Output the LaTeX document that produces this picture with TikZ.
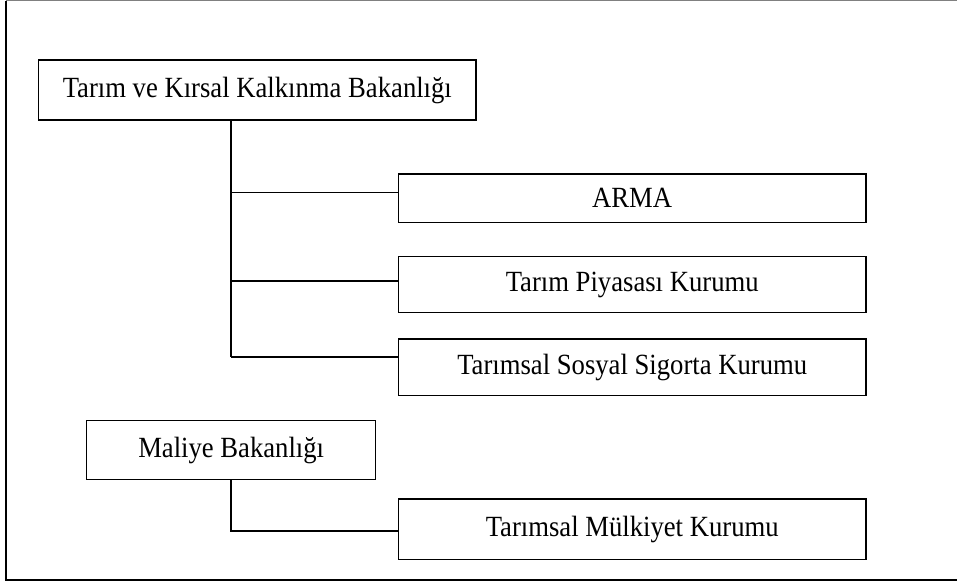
\documentclass[tikz,border=0pt]{standalone}
\usepackage{fontspec}
\setmainfont[FakeStretch=0.91]{Liberation Serif}
\begin{document}
\begin{tikzpicture}[x=1pt,y=-1pt,
  box/.style={draw=black,line width=1.4pt,fill=white,inner sep=0pt,align=center,font=\fontsize{29.3}{34}\selectfont},
  conn/.style={draw=black,line width=1.4pt}]
\useasboundingbox (0,0) rectangle (957,582);
% outer frame
\draw[gray,line width=1pt] (6,0.7) -- (957,0.7);
\draw[black,line width=1.5pt] (6,0.7) -- (6,580) -- (957,580);
% nodes
\node[box,minimum width=437.3pt,minimum height=60pt] (main) at (257.3,90) {Tarım ve Kırsal Kalkınma Bakanlığı};
\node[box,minimum width=467.6pt,minimum height=48.3pt] (arma) at (632.2,198.2) {ARMA};
\node[box,minimum width=467.6pt,minimum height=56pt] (tpk) at (632.2,284.7) {Tarım Piyasası Kurumu};
\node[box,minimum width=467.6pt,minimum height=56.7pt] (tssk) at (632.2,367.4) {Tarımsal Sosyal Sigorta Kurumu};
\node[box,minimum width=289pt,minimum height=58.6pt] (maliye) at (231.2,450) {Maliye Bakanlığı};
\node[box,minimum width=467.6pt,minimum height=60.3pt] (tmk) at (632.2,529.2) {Tarımsal Mülkiyet Kurumu};
% connectors
\coordinate (ja) at (231,192.3);
\coordinate (jb) at (231,281);
\coordinate (jc) at (231,357);
\coordinate (jm) at (231,531);
\draw[conn] (main.south -| ja) -- (jc);
\draw[conn] (ja) -- (ja -| arma.west);
\draw[conn] (jb) -- (jb -| tpk.west);
\draw[conn] (jc) -- (jc -| tssk.west);
\draw[conn] (maliye.south -| jm) -- (jm) -- (jm -| tmk.west);
\end{tikzpicture}
\end{document}
